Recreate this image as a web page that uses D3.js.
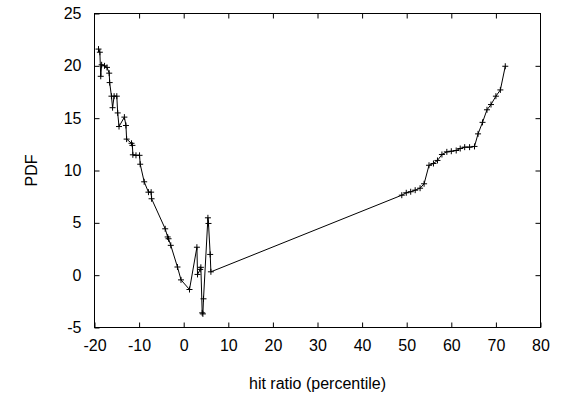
<!DOCTYPE html>
<html>
<head>
<meta charset="utf-8">
<script src="https://cdn.jsdelivr.net/npm/d3@7"></script>
<style>
  body { margin: 0; background: #fff; }
  svg text { font-family: "Liberation Sans", Arial, sans-serif; fill: #000; }
</style>
</head>
<body>
<div id="chart"></div>
<script>
// hit ratio (percentile) vs PDF, in drawing order
var hitRatio = [
  -19.1, -18.8, -18.6, -18.4, -17.75, -17.2, -16.7, -16.6, -16.2, -15.95,
  -15.6, -15.0, -14.8, -14.5, -13.3, -12.95, -12.8, -11.7, -11.5, -11.4,
  -10.7, -9.9, -9.75, -8.86, -7.9, -7.3, -7.2, -4.15, -3.6, -3.4,
  -2.9, -1.4, -0.6, 1.3, 2.96, 3.1, 3.7, 3.85, 4.15, 4.3,
  4.44, 5.43, 5.56, 5.94, 6.1,
  48.9, 49.9, 50.9, 51.9, 53.0, 53.9, 55.0, 56.0, 56.9, 57.9,
  59.0, 60.0, 61.1, 62.0, 63.0, 64.1, 65.2, 66.0, 67.0, 68.0,
  68.9, 70.0, 71.0, 72.1
];
var pdf = [
  21.6, 21.3, 19.0, 20.1, 20.0, 19.85, 19.3, 18.4, 17.1, 16.0,
  17.1, 17.1, 15.5, 14.2, 15.1, 14.3, 13.0, 12.6, 12.4, 11.5,
  11.45, 11.45, 10.6, 8.92, 7.93, 7.93, 7.3, 4.43, 3.65, 3.48,
  2.85, 0.78, -0.45, -1.37, 2.67, 0.07, 0.55, 0.75, -3.6, -3.7,
  -2.26, 5.48, 4.94, 1.98, 0.32,
  7.64, 7.87, 7.97, 8.12, 8.31, 8.73, 10.5, 10.67, 10.96, 11.53,
  11.78, 11.84, 11.91, 12.1, 12.23, 12.23, 12.3, 13.5, 14.6, 15.8,
  16.3, 17.1, 17.7, 19.96
];
var xTicks = [-20, -10, 0, 10, 20, 30, 40, 50, 60, 70, 80];
var yTicks = [-5, 0, 5, 10, 15, 20, 25];

var width = 561, height = 395;
var margin = { top: 13.5, right: 20.5, bottom: 67.5, left: 94.5 };
var innerW = width - margin.left - margin.right;
var innerH = height - margin.top - margin.bottom;

var data = hitRatio.map((x, i) => ({ x: x, y: pdf[i] }));

var svg = d3.select('#chart').append('svg')
  .attr('width', width)
  .attr('height', height);

var g = svg.append('g')
  .attr('transform', `translate(${margin.left},${margin.top})`);

var x = d3.scaleLinear().domain([-20, 80]).range([0, innerW]);
var y = d3.scaleLinear().domain([-5, 25]).range([innerH, 0]);

var tickLen = 5;
var plain = d => String(d); // keep ascii hyphen like the original

// bottom axis, ticks inward
g.append('g')
  .attr('transform', `translate(0,${innerH})`)
  .call(d3.axisBottom(x).tickValues(xTicks).tickSize(-tickLen).tickPadding(12).tickFormat(plain))
  .call(a => a.select('.domain').remove())
  .call(a => a.selectAll('text').style('font-size', '16px'));

// top mirror ticks
g.append('g')
  .call(d3.axisTop(x).tickValues(xTicks.slice(1, -1)).tickSize(-tickLen).tickFormat(''))
  .call(a => a.select('.domain').remove());

// left axis
g.append('g')
  .call(d3.axisLeft(y).tickValues(yTicks).tickSize(-tickLen).tickPadding(13).tickFormat(plain))
  .call(a => a.select('.domain').remove())
  .call(a => a.selectAll('text').style('font-size', '16px'));

// right mirror ticks
g.append('g')
  .attr('transform', `translate(${innerW},0)`)
  .call(d3.axisRight(y).tickValues(yTicks.slice(1, -1)).tickSize(-tickLen).tickFormat(''))
  .call(a => a.select('.domain').remove());

// frame
g.append('rect')
  .attr('width', innerW)
  .attr('height', innerH)
  .attr('fill', 'none')
  .attr('stroke', '#000')
  .attr('stroke-width', 1);

// line
var line = d3.line().x(d => x(d.x)).y(d => y(d.y));
g.append('path')
  .datum(data)
  .attr('d', line)
  .attr('fill', 'none')
  .attr('stroke', '#000')
  .attr('stroke-width', 1);

// + markers
var s = 3;
g.selectAll('.pt')
  .data(data)
  .enter()
  .append('path')
  .attr('class', 'pt')
  .attr('d', d => {
    var px = x(d.x), py = y(d.y);
    return `M${px - s},${py}H${px + s}M${px},${py - s}V${py + s}`;
  })
  .attr('stroke', '#000')
  .attr('stroke-width', 1);

// axis titles
svg.append('text')
  .attr('x', margin.left + innerW / 2)
  .attr('y', 389)
  .attr('text-anchor', 'middle')
  .style('font-size', '16px')
  .text('hit ratio (percentile)');

svg.append('text')
  .attr('transform', `translate(37,${margin.top + innerH / 2}) rotate(-90)`)
  .attr('text-anchor', 'middle')
  .style('font-size', '16px')
  .text('PDF');
</script>
</body>
</html>
